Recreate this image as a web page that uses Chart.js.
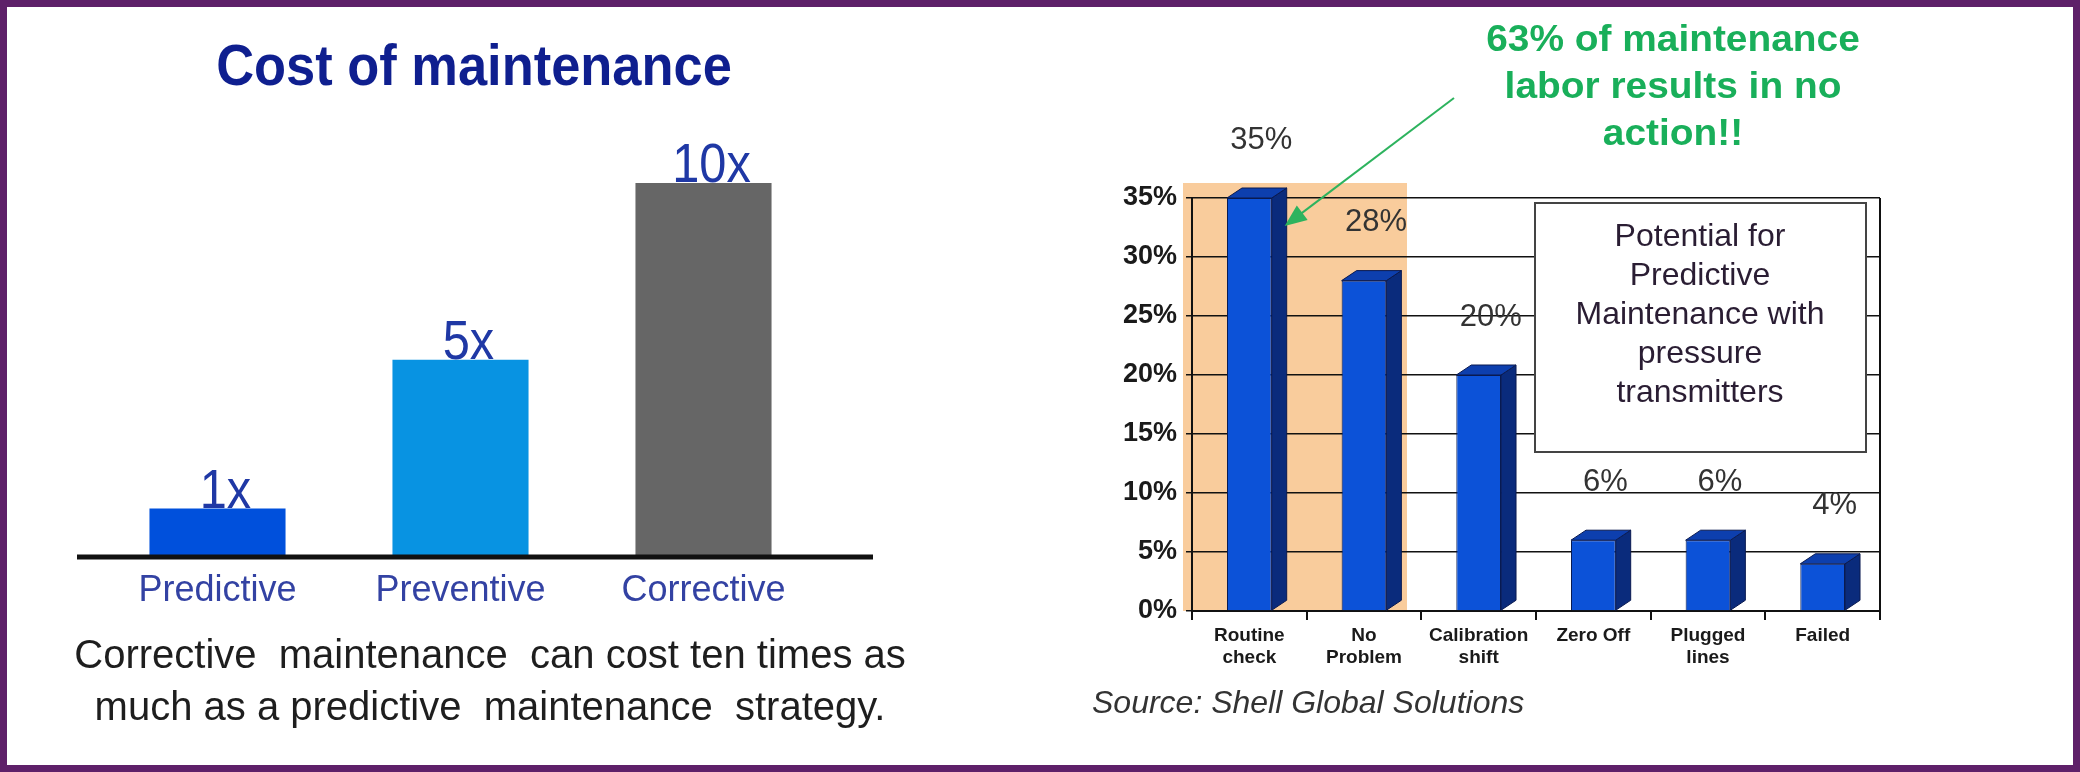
<!DOCTYPE html>
<html>
<head>
<meta charset="utf-8">
<script src="https://cdn.jsdelivr.net/npm/chart.js@4/dist/chart.umd.min.js"></script>
<style>
  body { margin: 0; background: #fff; }
  #wrap { position: relative; width: 2080px; height: 772px; overflow: hidden; }
  .pane { position: absolute; top: 0; width: 1040px; height: 772px; }
  #frame { position: absolute; left: 0; top: 0; width: 2080px; height: 772px; box-sizing: border-box;
           border: 7px solid #5e2069; pointer-events: none; }
</style>
</head>
<body>
<div id="wrap">
  <div class="pane" style="left:0"><canvas id="costChart"></canvas></div>
  <div class="pane" style="left:1040px"><canvas id="laborChart"></canvas></div>
  <div id="frame"></div>
</div>
<script>
// left chart: cost of maintenance
const costCats = ['Predictive', 'Preventive', 'Corrective'];
const costValues = [1.25, 5.25, 10];
const costLabels = ['1x', '5x', '10x'];
const costTitle = 'Cost of maintenance';
const costNote = ['Corrective  maintenance  can cost ten times as', 'much as a predictive  maintenance  strategy.'];

// right chart: where maintenance labor goes
const laborCats = [['Routine', 'check'], ['No', 'Problem'], ['Calibration', 'shift'], ['Zero Off'], ['Plugged', 'lines'], ['Failed']];
const laborValues = [35, 28, 20, 6, 6, 4];
const laborLabels = ['35%', '28%', '20%', '6%', '6%', '4%'];
const pctTicks = ['0%', '5%', '10%', '15%', '20%', '25%', '30%', '35%'];
const noteLines = ['63% of maintenance', 'labor results in no', 'action!!'];
const boxLines = ['Potential for', 'Predictive', 'Maintenance with', 'pressure', 'transmitters'];
const sourceText = 'Source: Shell Global Solutions';

const FONT = '"Liberation Sans", Arial, sans-serif';
Chart.defaults.font.family = FONT;

function txt(ctx, s, x, y, font, color, align, sx) {
  ctx.save();
  ctx.font = font;
  ctx.fillStyle = color;
  ctx.textAlign = align || 'center';
  ctx.textBaseline = 'alphabetic';
  ctx.translate(x, y);
  ctx.scale(sx || 1, 1);
  ctx.fillText(s, 0, 0);
  ctx.restore();
}

const costDeco = {
  id: 'costDeco',
  afterDatasetsDraw(chart) {
    const { ctx, chartArea: a, scales: { y } } = chart;
    const y0 = y.getPixelForValue(0);
    ctx.save();
    ctx.strokeStyle = '#111';
    ctx.lineWidth = 5;
    ctx.beginPath();
    ctx.moveTo(a.left - 19, y0 + 2);
    ctx.lineTo(a.right + 48, y0 + 2);
    ctx.stroke();
    ctx.restore();

    chart.getDatasetMeta(0).data.forEach((bar, i) => {
      txt(ctx, costLabels[i], bar.x + 8, bar.y - 1, '56px ' + FONT, '#1f38a5', 'center', 0.87);
    });

    txt(ctx, costTitle, 474, 85, 'bold 57px ' + FONT, '#0f1f8f', 'center', 0.92);
    txt(ctx, costNote[0], 490, 668, '40px ' + FONT, '#1e1e1e');
    txt(ctx, costNote[1], 490, 720, '40px ' + FONT, '#1e1e1e');
  }
};

new Chart(document.getElementById('costChart'), {
  type: 'bar',
  data: {
    labels: costCats,
    datasets: [{
      data: costValues,
      backgroundColor: ['#0050dc', '#0893e2', '#666666'],
      categoryPercentage: 1,
      barPercentage: 0.56
    }]
  },
  options: {
    responsive: true,
    maintainAspectRatio: false,
    animation: false,
    layout: { padding: { left: 96, right: 215, top: 183, bottom: 157 } },
    plugins: { legend: { display: false }, tooltip: { enabled: false } },
    scales: {
      x: {
        grid: { display: false, drawTicks: false },
        border: { display: false },
        ticks: { color: '#3342a3', font: { size: 36 }, padding: 14 },
        afterFit(s) { s.height = 60; }
      },
      y: { display: false, min: 0, max: 10 }
    }
  },
  plugins: [costDeco]
});

const laborDeco = {
  id: 'laborDeco',
  beforeDraw(chart) {
    const { ctx, chartArea: a, scales: { x, y } } = chart;
    ctx.save();
    ctx.fillStyle = '#f9cc9c';
    const top = y.getPixelForValue(35) - 15;
    const right = x.getPixelForValue(1) + 43;
    ctx.fillRect(a.left - 9, top, right - a.left + 9, a.bottom - top);
    ctx.restore();
  },
  afterDatasetsDraw(chart) {
    const { ctx } = chart;
    const dx = 15, dy = 10;
    chart.getDatasetMeta(0).data.forEach((bar, i) => {
      const l = bar.x - bar.width / 2, r = bar.x + bar.width / 2;
      ctx.save();
      ctx.strokeStyle = '#0a1a50';
      ctx.lineWidth = 1;
      // side face
      ctx.fillStyle = '#0a2b7c';
      ctx.beginPath();
      ctx.moveTo(r, bar.y);
      ctx.lineTo(r + dx, bar.y - dy);
      ctx.lineTo(r + dx, bar.base - dy);
      ctx.lineTo(r, bar.base);
      ctx.closePath();
      ctx.fill();
      ctx.stroke();
      // top face
      ctx.fillStyle = '#0d3fae';
      ctx.beginPath();
      ctx.moveTo(l, bar.y);
      ctx.lineTo(l + dx, bar.y - dy);
      ctx.lineTo(r + dx, bar.y - dy);
      ctx.lineTo(r, bar.y);
      ctx.closePath();
      ctx.fill();
      ctx.stroke();
      ctx.restore();
      ctx.save();
      ctx.font = '31px ' + FONT;
      ctx.fillStyle = '#333';
      ctx.textAlign = 'center';
      ctx.textBaseline = 'middle';
      ctx.fillText(laborLabels[i], bar.x + 12, bar.y - 58);
      ctx.restore();
    });
  },
  afterDraw(chart) {
    const { ctx, chartArea: a } = chart;
    // right edge of the plot
    ctx.save();
    ctx.strokeStyle = '#111';
    ctx.lineWidth = 2;
    ctx.beginPath();
    ctx.moveTo(a.right, a.top);
    ctx.lineTo(a.right, a.bottom);
    ctx.stroke();

    // text box
    ctx.fillStyle = '#fff';
    ctx.fillRect(495, 203, 331, 249);
    ctx.strokeStyle = '#444';
    ctx.lineWidth = 2;
    ctx.strokeRect(495, 203, 331, 249);
    ctx.restore();
    boxLines.forEach((s, i) => txt(ctx, s, 660, 246 + i * 39, '32px ' + FONT, '#2a1d33'));

    // green note with arrow
    noteLines.forEach((s, i) => txt(ctx, s, 633, 51 + i * 47, 'bold 37px ' + FONT, '#19af5a', 'center', 1.05));
    const bar = chart.getDatasetMeta(0).data[0];
    const tx = bar.x + bar.width / 2 + 13, ty = bar.y + 28;
    const sx = 414, sy = 98;
    const ang = Math.atan2(ty - sy, tx - sx);
    ctx.save();
    ctx.strokeStyle = '#2db35e';
    ctx.fillStyle = '#2db35e';
    ctx.lineWidth = 2;
    ctx.beginPath();
    ctx.moveTo(sx, sy);
    ctx.lineTo(tx - 18 * Math.cos(ang), ty - 18 * Math.sin(ang));
    ctx.stroke();
    ctx.beginPath();
    ctx.moveTo(tx, ty);
    ctx.lineTo(tx - 22 * Math.cos(ang) + 9 * Math.sin(ang), ty - 22 * Math.sin(ang) - 9 * Math.cos(ang));
    ctx.lineTo(tx - 22 * Math.cos(ang) - 9 * Math.sin(ang), ty - 22 * Math.sin(ang) + 9 * Math.cos(ang));
    ctx.closePath();
    ctx.fill();
    ctx.restore();

    txt(ctx, sourceText, 52, 713, 'italic 32px ' + FONT, '#333', 'left');
  }
};

new Chart(document.getElementById('laborChart'), {
  type: 'bar',
  data: {
    labels: laborCats,
    datasets: [{
      data: laborValues,
      backgroundColor: '#0c52d8',
      borderColor: '#0a1a50',
      borderWidth: 1,
      categoryPercentage: 1,
      barPercentage: 0.39
    }]
  },
  options: {
    responsive: true,
    maintainAspectRatio: false,
    animation: false,
    layout: { padding: { left: 62, right: 200, top: 198, bottom: 101 } },
    plugins: { legend: { display: false }, tooltip: { enabled: false } },
    scales: {
      x: {
        grid: { drawOnChartArea: false, drawTicks: true, tickLength: 9, color: '#111', lineWidth: 2 },
        border: { display: true, color: '#111', width: 2 },
        ticks: { color: '#1a1a1a', font: { size: 19, weight: 'bold', lineHeight: 1.15 }, padding: 5, maxRotation: 0 },
        afterFit(s) { s.height = 60; }
      },
      y: {
        min: 0, max: 35,
        grid: { color: '#111', lineWidth: 1.5, drawTicks: true, tickLength: 6 },
        border: { display: true, color: '#111', width: 2 },
        ticks: { stepSize: 5, color: '#1a1a1a', font: { size: 27, weight: 'bold' }, padding: 9,
                 callback: (v, i) => pctTicks[i] },
        afterFit(s) { s.width = 90; }
      }
    }
  },
  plugins: [laborDeco]
});
</script>
</body>
</html>
